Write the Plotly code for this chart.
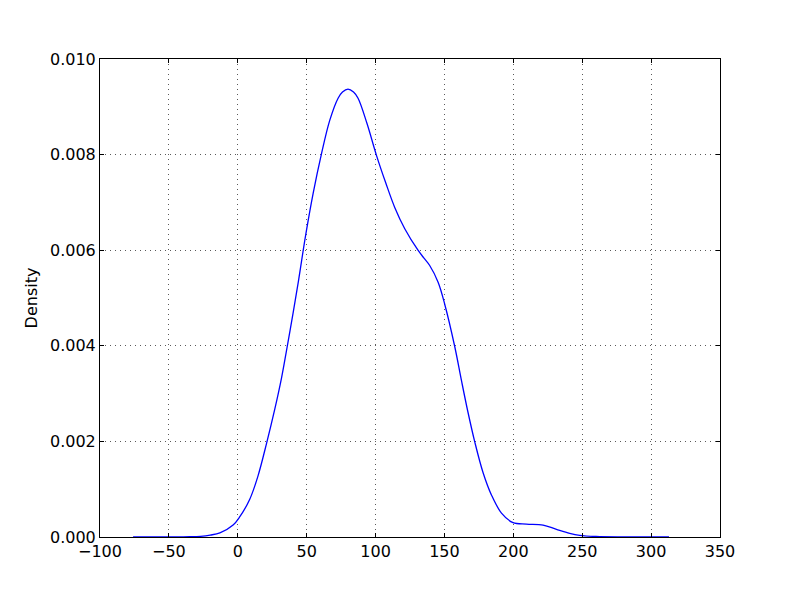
import plotly.graph_objects as go

# Kernel density curve
x_vals = [-76, -60, -50, -40, -35, -27, -20, -13, -3.4, 1.5, 8.7, 14.7, 20.8,
          26.9, 31.7, 35.3, 40.1, 44, 49.3, 54.7, 60.7, 66.8, 72.8, 76, 80,
          84, 87.3, 93.8, 100.6, 107.5, 114, 121.2, 130.8, 135, 139.3, 145.4,
          150.2, 157.5, 162.3, 167, 172, 178, 184.1, 191.4, 199.8, 209.5,
          221.6, 231.3, 240.9, 248.2, 260, 280, 313]
density = [0.0, 0.0, 0.0000005, 0.000002, 0.000005, 0.000015, 0.00004,
           0.000085, 0.00025, 0.000425, 0.00079, 0.00128, 0.00195, 0.00268,
           0.00332, 0.00389, 0.00468, 0.00535, 0.00632, 0.00719, 0.00801,
           0.00872, 0.00918, 0.00931, 0.00937, 0.00931, 0.00918, 0.00865,
           0.00799, 0.0074, 0.00689, 0.00645, 0.006, 0.00584, 0.00568,
           0.00533, 0.00487, 0.00398, 0.00328, 0.00262, 0.00199, 0.00135,
           0.00088, 0.0005, 0.0003, 0.00027, 0.00025, 0.00016, 0.000077,
           0.000035, 0.00001, 0.000001, 0.0]

x_ticks = [-100, -50, 0, 50, 100, 150, 200, 250, 300, 350]
y_ticks = [0.000, 0.002, 0.004, 0.006, 0.008, 0.010]

fig = go.Figure()
fig.add_trace(go.Scatter(
    x=x_vals, y=density, mode="lines",
    line=dict(color="#0000ff", width=1.3, shape="spline", smoothing=1.0),
    showlegend=False, hoverinfo="skip"))

font = dict(family="DejaVu Sans", size=16, color="black")
axis_common = dict(
    showline=True, linecolor="black", linewidth=1, mirror="allticks",
    ticks="inside", ticklen=4, tickwidth=1, tickcolor="black",
    showgrid=True, gridcolor="rgba(0,0,0,0.65)", gridwidth=1,
    griddash="1px,4px", zeroline=False, tickfont=font)

fig.update_xaxes(range=[-100, 350], tickvals=x_ticks, **axis_common)
fig.update_yaxes(range=[0, 0.010], tickvals=y_ticks, tickformat=".3f",
                 title=dict(text="Density", font=font, standoff=8),
                 **axis_common)

fig.update_layout(
    width=800, height=597,
    margin=dict(l=92, r=88, t=51, b=68, autoexpand=False),
    paper_bgcolor="white", plot_bgcolor="white",
    font=font)

fig.write_html("out.html")
